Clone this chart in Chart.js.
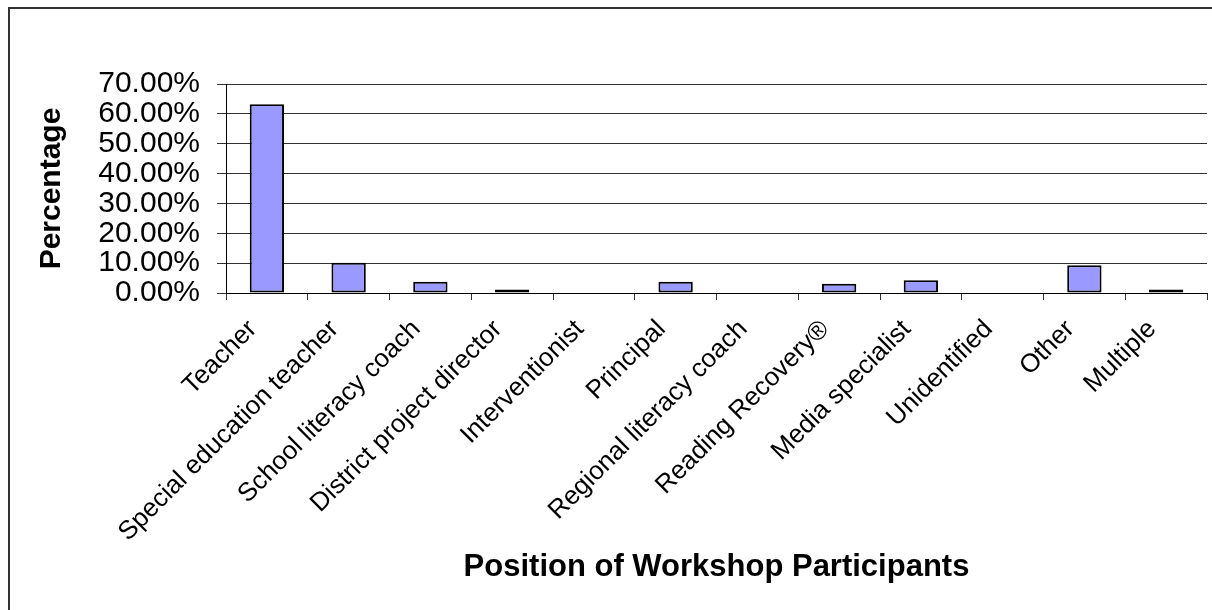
<!DOCTYPE html>
<html>
<head>
<meta charset="utf-8">
<script src="https://cdn.jsdelivr.net/npm/chart.js@4/dist/chart.umd.min.js"></script>
<style>
  html, body { margin: 0; padding: 0; background: #fff; }
  #wrap { position: relative; width: 1212px; height: 610px; }
</style>
</head>
<body>
<div id="wrap"><canvas id="c"></canvas></div>
<script>
const categories = [
  "Teacher",
  "Special education teacher",
  "School literacy coach",
  "District project director",
  "Interventionist",
  "Principal",
  "Regional literacy coach",
  "Reading Recovery\u00AE",
  "Media specialist",
  "Unidentified",
  "Other",
  "Multiple"
];
const percentages = [63.2, 10.1, 3.8, 1.2, 0, 3.8, 0, 3.1, 4.3, 0, 9.3, 1.2];
const yTickValues = [0, 10, 20, 30, 40, 50, 60, 70];
const yTickLabels = ["0.00%", "10.00%", "20.00%", "30.00%", "40.00%", "50.00%", "60.00%", "70.00%"];
const xTitle = "Position of Workshop Participants";
const yTitle = "Percentage";

const frame = {
  id: 'frame',
  afterDraw(chart) {
    const ctx = chart.ctx;
    ctx.save();
    ctx.strokeStyle = '#333';
    ctx.lineWidth = 2;
    ctx.beginPath();
    ctx.moveTo(9, 612);
    ctx.lineTo(9, 8);
    ctx.lineTo(1214, 8);
    ctx.stroke();
    ctx.restore();
  }
};

new Chart(document.getElementById('c'), {
  type: 'bar',
  data: {
    labels: categories,
    datasets: [{
      data: percentages,
      backgroundColor: '#9999FF',
      borderColor: '#000000',
      borderWidth: 2,
      borderSkipped: false,
      categoryPercentage: 1.0,
      barPercentage: 0.42
    }]
  },
  options: {
    responsive: true,
    maintainAspectRatio: false,
    animation: false,
    layout: { padding: { left: 0, right: 5, top: 84, bottom: 0 } },
    plugins: { legend: { display: false }, tooltip: { enabled: false } },
    scales: {
      x: {
        afterFit(scale) { scale.height = 317; },
        grid: {
          display: true,
          drawOnChartArea: false,
          drawTicks: true,
          tickLength: 7,
          color: '#333',
          offset: true
        },
        border: { display: true, color: '#000', width: 1 },
        ticks: {
          autoSkip: false,
          maxRotation: 45,
          minRotation: 45,
          color: '#000',
          padding: 14,
          labelOffset: -14,
          font: { family: 'Liberation Sans, Arial, sans-serif', size: 26 }
        },
        title: {
          display: true,
          text: xTitle,
          color: '#000',
          padding: { top: 0, bottom: 24 },
          font: { family: 'Liberation Sans, Arial, sans-serif', size: 31, weight: 'bold' }
        }
      },
      y: {
        min: 0,
        max: 70,
        afterFit(scale) { scale.width = 226; },
        afterBuildTicks(scale) { scale.ticks = yTickValues.map(v => ({ value: v })); },
        grid: {
          color: '#333',
          lineWidth: 1,
          drawTicks: true,
          tickLength: 9
        },
        border: { display: true, color: '#000', width: 1 },
        ticks: {
          autoSkip: false,
          color: '#000',
          padding: 17,
          font: { family: 'Liberation Sans, Arial, sans-serif', size: 30 },
          callback: (v) => yTickLabels[yTickValues.indexOf(v)]
        },
        title: {
          display: true,
          text: yTitle,
          color: '#000',
          padding: { top: 34, bottom: 0 },
          font: { family: 'Liberation Sans, Arial, sans-serif', size: 30, weight: 'bold' }
        }
      }
    }
  },
  plugins: [frame]
});
</script>
</body>
</html>
